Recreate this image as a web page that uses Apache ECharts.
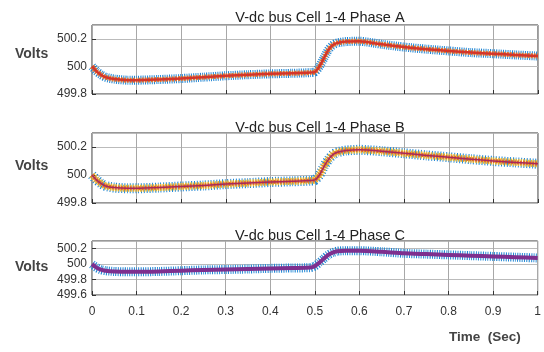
<!DOCTYPE html>
<html>
<head>
<meta charset="utf-8">
<script src="https://cdn.jsdelivr.net/npm/echarts@6/dist/echarts.min.js"></script>
<style>html,body{margin:0;padding:0;background:#fff;}#c{width:544px;height:352px;}</style>
</head>
<body>
<div id="c"></div>
<script>
const times = [0,0.01,0.02,0.03,0.05,0.08,0.1,0.15,0.2,0.25,0.3,0.35,0.4,0.45,0.49,0.5,0.51,0.52,0.53,0.54,0.55,0.57,0.6,0.65,0.7,0.75,0.8,0.85,0.9,0.95,1.0];
const phaseA = [500.0,499.965,499.94,499.922,499.908,499.9,499.9,499.905,499.912,499.922,499.932,499.94,499.946,499.95,499.955,499.96,500.0,500.06,500.12,500.155,500.17,500.18,500.182,500.16,500.14,500.125,500.112,500.1,500.092,500.083,500.075];
const phaseB = [500.0,499.965,499.94,499.922,499.91,499.905,499.905,499.91,499.918,499.925,499.935,499.942,499.95,499.955,499.96,499.965,500.0,500.06,500.11,500.145,500.162,500.175,500.18,500.17,500.155,500.14,500.127,500.113,500.1,500.09,500.08];
const phaseC = [500.0,499.955,499.928,499.915,499.905,499.9,499.9,499.905,499.915,499.925,499.93,499.937,499.945,499.95,499.955,499.975,500.02,500.07,500.12,500.15,500.168,500.175,500.175,500.16,500.14,500.13,500.12,500.11,500.1,500.09,500.08];
const titles = ['V-dc bus Cell 1-4 Phase A','V-dc bus Cell 1-4 Phase B','V-dc bus Cell 1-4 Phase C'];
const xTicks = [0,0.1,0.2,0.3,0.4,0.5,0.6,0.7,0.8,0.9,1];

const pts = arr => times.map((t,i)=>[t,arr[i]]);
const FONT = 'Liberation Sans, Arial, sans-serif';
const grids = [
  {left:92,right:6,top:25,height:69},
  {left:92,right:6,top:133,height:70},
  {left:92,right:6,top:241,height:54}
].map(g=>Object.assign(g,{show:true,borderColor:'#333',borderWidth:1,backgroundColor:'#fff'}));

const xAxes = [0,1,2].map(i=>({
  type:'value',gridIndex:i,min:0,max:1,interval:0.1,
  axisLine:{show:false},
  axisTick:{show:true,inside:true,length:4,lineStyle:{color:'#333'}},
  axisLabel:{show:i===2,fontSize:12,color:'#333',fontFamily:FONT,margin:11,
    formatter:v=>{const r=Math.round(v*10)/10;return xTicks.includes(r)?String(r):'';}},
  splitLine:{show:true,lineStyle:{color:'#a8a8a8',width:1}}
}));
const yRanges = [[499.8,500.3],[499.8,500.3],[499.6,500.3]];
const yAxes = yRanges.map((r,i)=>({
  type:'value',gridIndex:i,min:r[0],max:r[1],interval:0.2,
  axisLine:{show:false},
  axisTick:{show:true,inside:true,length:4,lineStyle:{color:'#333'}},
  axisLabel:{fontSize:12,color:'#333',fontFamily:FONT,margin:5,showMaxLabel:false,
    formatter:v=>String(Math.round(v*10)/10)},
  splitLine:{show:true,lineStyle:{color:'#bbb',width:1}}
}));

function band(i,data,color,width,dash,z){
  return {type:'line',xAxisIndex:i,yAxisIndex:i,data:pts(data),showSymbol:false,symbol:'none',
    smooth:0.2,z:z,silent:true,animation:false,
    lineStyle:{color:color,width:width,type:dash||'solid',cap:'butt',join:'round'}};
}
const series = [
  band(0,phaseA,'#1f86d4',9,[1,1.2],2),
  band(0,phaseA,'#e8772e',5,[2,1],3),
  band(0,phaseA,'#d4352a',2.5,null,4),
  band(1,phaseB,'#1f86d4',10,[1,1.8],2),
  band(1,phaseB,'#f0b92a',7,[1.5,1],3),
  band(1,phaseB,'#e06a2c',4,[2,1],4),
  band(1,phaseB,'#a8285a',1.5,null,5),
  band(2,phaseC,'#1f86d4',9,[1,1.3],2),
  band(2,phaseC,'#7e2f8e',4,null,3)
];

const chart = echarts.init(document.getElementById('c'),null,{renderer:'canvas'});
chart.setOption({
  backgroundColor:'#fff',
  animation:false,
  title: titles.map((t,i)=>({text:t,left:315,textAlign:'center',top:[5,115,223][i],
    textStyle:{fontSize:14.5,fontWeight:'normal',color:'#222',fontFamily:FONT}})),
  grid:grids,xAxis:xAxes,yAxis:yAxes,series:series,
  graphic:[
    {type:'text',left:15,top:47,style:{text:'Volts',fontSize:14,fontWeight:'bold',fill:'#444',fontFamily:FONT}},
    {type:'text',left:15,top:159,style:{text:'Volts',fontSize:14,fontWeight:'bold',fill:'#444',fontFamily:FONT}},
    {type:'text',left:15,top:260,style:{text:'Volts',fontSize:14,fontWeight:'bold',fill:'#444',fontFamily:FONT}},
    {type:'text',left:449,top:330,style:{text:'Time  (Sec)',fontSize:13.5,fontWeight:'bold',fill:'#444',fontFamily:FONT}}
  ]
});
</script>
</body>
</html>
